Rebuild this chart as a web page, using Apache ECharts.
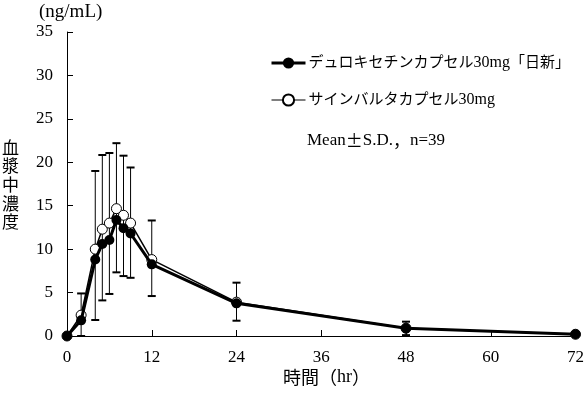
<!DOCTYPE html>
<html><head><meta charset="utf-8">
<script src="https://cdn.jsdelivr.net/npm/echarts@6/dist/echarts.min.js"></script>
<style>html,body{margin:0;padding:0;background:#fff}#c{width:587px;height:395px}</style>
</head><body><div id="c"></div>
<script>
const times = [0, 2, 4, 5, 6, 7, 8, 9, 12, 24, 48, 72];
const genericMean = [0, 1.8, 8.8, 10.6, 11.05, 13.35, 12.4, 11.8, 8.25, 3.76, 0.88, 0.2];
const brandMean = [0, 2.4, 10.0, 12.3, 13.0, 14.66, 13.9, 13.0, 8.8, 3.9, 0.9, 0.2];
const errTimes = [2, 4, 5, 6, 7, 8, 9, 12, 24, 48];
const errLow = [0, 1.84, 4.1, 4.84, 7.33, 6.9, 6.7, 4.6, 1.76, 0.1];
const errHigh = [4.9, 19.0, 20.84, 21.07, 22.2, 20.76, 19.4, 13.3, 6.14, 1.65];
const xTicks = [0, 12, 24, 36, 48, 60, 72];
const yTicks = [0, 5, 10, 15, 20, 25, 30, 35];
const seriesNames = ['デュロキセチンカプセル30mg「日新」', 'サインバルタカプセル30mg'];

const serif = '"Liberation Serif", "Noto Sans CJK JP", serif';
const cjk = '"Noto Sans CJK JP", sans-serif';
const chart = echarts.init(document.getElementById('c'), null, {renderer: 'canvas'});
chart.setOption({
  animation: false,
  backgroundColor: '#fff',
  grid: {left: 67, right: 3, top: 32, bottom: 59, containLabel: false},
  xAxis: {
    type: 'value', min: 0, max: 72, interval: 12,
    axisLine: {lineStyle: {color: '#000', width: 1}},
    axisTick: {inside: true, length: 6, lineStyle: {color: '#000'}},
    axisLabel: {color: '#000', fontSize: 17, fontFamily: serif, margin: 13,
      formatter: v => xTicks.includes(v) ? String(v) : ''},
    splitLine: {show: false}
  },
  yAxis: {
    type: 'value', min: 0, max: 35, interval: 5,
    axisLine: {show: true, lineStyle: {color: '#000', width: 1}},
    axisTick: {show: true, inside: true, length: 6, lineStyle: {color: '#000'}},
    axisLabel: {color: '#000', fontSize: 17, fontFamily: serif, margin: 14,
      formatter: v => yTicks.includes(v) ? String(v) : ''},
    splitLine: {show: false}
  },
  legend: {
    orient: 'vertical', left: 270, top: 55, itemGap: 21, padding: 0,
    itemWidth: 34, itemHeight: 14,
    formatter: name => name.replace('30mg', '{n|30mg}'),
    textStyle: {color: '#000', fontSize: 15, fontFamily: serif, padding: [0, 0, 0, -2],
      rich: {n: {fontSize: 16, fontFamily: serif, color: '#000'}}},
    data: [
      {name: seriesNames[0], lineStyle: {width: 3, color: '#000'}},
      {name: seriesNames[1], lineStyle: {width: 1.2, color: '#000'}}
    ]
  },
  graphic: [
    {type: 'text', left: 39, top: 3, style: {text: '(ng/mL)', font: '19px ' + serif, fill: '#000'}},
    {type: 'text', left: 2, top: 138, style: {text: '血\n漿\n中\n濃\n度', font: '17px ' + cjk, fill: '#000', lineHeight: 18.6}},
    {type: 'text', left: 283, top: 368, style: {
      text: '{j|時間（}{a|hr}{j|）}',
      rich: {
        j: {fontSize: 18, fontFamily: cjk, fill: '#000'},
        a: {fontSize: 18, fontFamily: serif, fill: '#000'}
      }
    }},
    {type: 'text', left: 307, top: 132, style: {
      text: '{a|Mean}{b|±}{a|S.D.}{b|，}{a|n=39}',
      rich: {
        a: {fontSize: 17, fontFamily: serif, fill: '#000'},
        b: {fontSize: 17, fontFamily: cjk, fill: '#000'}
      }
    }}
  ],
  series: [
    {
      type: 'custom', name: 'sd', silent: true, z: 1,
      data: errTimes.map((t, i) => [t, errLow[i], errHigh[i]]),
      renderItem: function (params, api) {
        const x = api.coord([api.value(0), 0])[0];
        const lo = api.coord([0, api.value(1)])[1];
        const hi = api.coord([0, api.value(2)])[1];
        const cw = 4;
        return {type: 'group', children: [
          {type: 'line', shape: {x1: x, y1: lo, x2: x, y2: hi}, style: {stroke: '#000', lineWidth: 1}},
          {type: 'line', shape: {x1: x - cw, y1: hi, x2: x + cw, y2: hi}, style: {stroke: '#000', lineWidth: 2}},
          {type: 'line', shape: {x1: x - cw, y1: lo, x2: x + cw, y2: lo}, style: {stroke: '#000', lineWidth: 2}}
        ]};
      }
    },
    {
      type: 'line', name: seriesNames[1], z: 3, clip: false,
      data: times.map((t, i) => [t, brandMean[i]]),
      symbol: 'circle', symbolSize: 10,
      lineStyle: {color: '#000', width: 1.5},
      itemStyle: {color: '#fff', borderColor: '#000', borderWidth: 1}
    },
    {
      type: 'line', name: seriesNames[0], z: 4, clip: false,
      data: times.map((t, i) => [t, genericMean[i]]),
      symbol: 'circle', symbolSize: 10,
      lineStyle: {color: '#000', width: 3},
      itemStyle: {color: '#000', borderColor: '#000', borderWidth: 0}
    }
  ]
});
</script></body></html>
